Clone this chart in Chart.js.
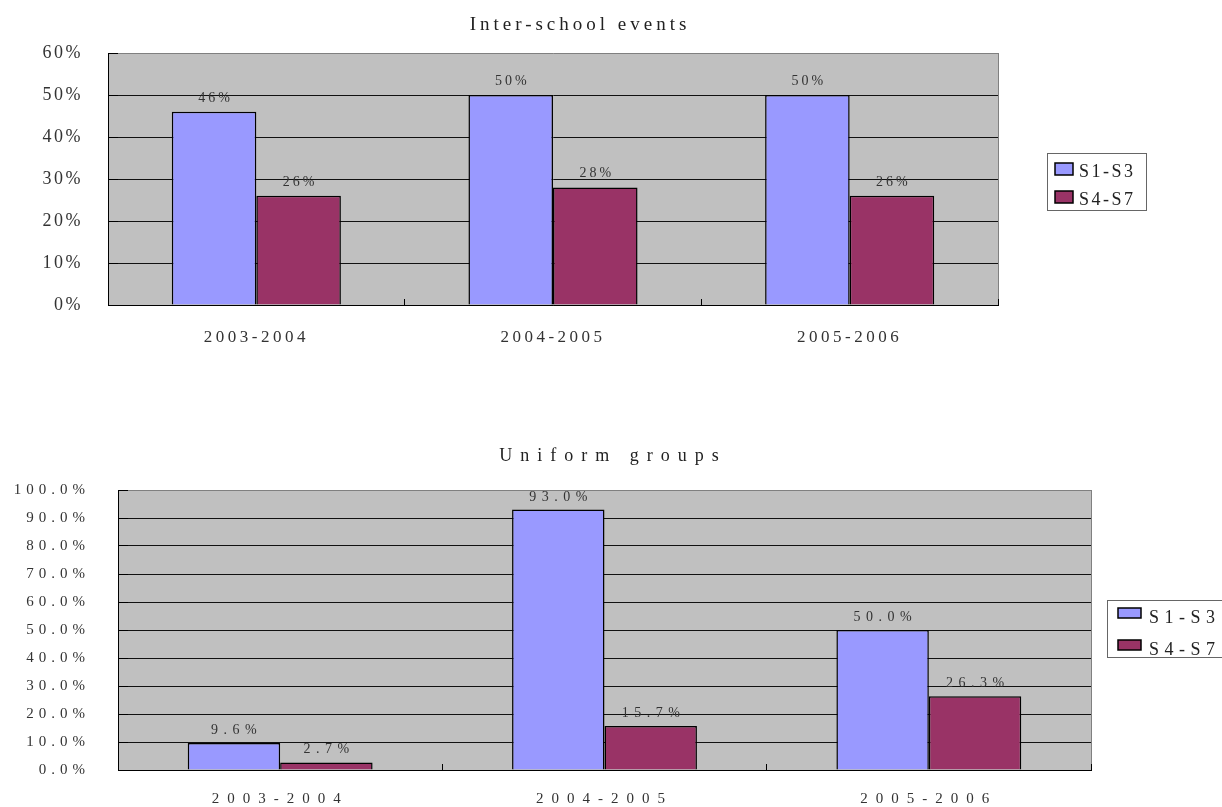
<!DOCTYPE html>
<html lang="en">

<head>
  <meta charset="UTF-8">
  <title>Inter-school events / Uniform groups</title>
  <style>
    body { margin: 0; background: #fff; }
    .chart-box { position: absolute; left: 0; }
  </style>
</head>

<body>
  <div class="chart-box" style="top: 0"><canvas id="events-canvas" width="1222" height="370"></canvas></div>
  <div class="chart-box" style="top: 430px"><canvas id="uniform-canvas" width="1222" height="377"></canvas></div>

  <script src="https://cdn.jsdelivr.net/npm/chart.js@4.4.8/dist/chart.umd.min.js"></script>
  <script>
    // shared categories and series
    const years = ['2003-2004', '2004-2005', '2005-2006'];
    const seriesNames = ['S1-S3', 'S4-S7'];
    const seriesColors = ['#9999FF', '#993366'];

    // Inter-school events
    const eventsS1S3 = [46, 50, 50];
    const eventsS4S7 = [26, 28, 26];
    const eventsTicks = [0, 10, 20, 30, 40, 50, 60];
    const eventsTickLabels = ['0%', '10%', '20%', '30%', '40%', '50%', '60%'];

    // Uniform groups
    const uniformS1S3 = [9.6, 93.0, 50.0];
    const uniformS4S7 = [2.7, 15.7, 26.3];
    const uniformTicks = [0, 10, 20, 30, 40, 50, 60, 70, 80, 90, 100];
    const uniformTickLabels = ['0.0%', '10.0%', '20.0%', '30.0%', '40.0%', '50.0%', '60.0%', '70.0%', '80.0%', '90.0%', '100.0%'];

    const FONT = "'Liberation Serif', 'Times New Roman', serif";

    // wrap a scale's label drawing so the text gets letter spacing
    function spaceLabels(scale, spacing) {
      if (scale._spaced) return;
      scale._spaced = true;
      const draw = scale.drawLabels;
      scale.drawLabels = function (area) {
        this.ctx.save();
        this.ctx.letterSpacing = spacing + 'px';
        draw.call(this, area);
        this.ctx.restore();
      };
    }

    function spacedText(ctx, text, x, y, size, spacing, align, color) {
      ctx.save();
      ctx.font = size + 'px ' + FONT;
      ctx.letterSpacing = spacing + 'px';
      ctx.textAlign = align;
      ctx.textBaseline = 'alphabetic';
      ctx.fillStyle = color;
      ctx.fillText(text, align === 'center' ? x + spacing / 2 : x, y);
      ctx.restore();
    }

    // same pixel snapping as Chart.js uses for 1px lines
    const snap = (p) => Math.round(p + 0.5) - 0.5;

    // background, title, legend, value labels and the small inner tick marks
    function decor(cfg) {
      return {
        id: 'decor',
        beforeDraw(chart) {
          const { ctx, chartArea: a } = chart;
          spaceLabels(chart.scales.x, cfg.xSpacing);
          spaceLabels(chart.scales.y, cfg.ySpacing);
          ctx.save();
          ctx.fillStyle = '#C0C0C0';
          ctx.fillRect(a.left, a.top, a.right - a.left, a.bottom - a.top);
          ctx.restore();
        },
        afterDatasetsDraw(chart) {
          const ctx = chart.ctx;
          chart.data.datasets.forEach((ds, i) => {
            chart.getDatasetMeta(i).data.forEach((bar, j) => {
              spacedText(ctx, ds.data[j].toFixed(cfg.decimals) + '%', bar.x, bar.y - cfg.valueGap,
                cfg.valueSize, cfg.valueSpacing, 'center', '#333');
            });
          });
        },
        afterDraw(chart) {
          const { ctx, chartArea: a, scales } = chart;
          ctx.save();
          // right border of the plot
          ctx.strokeStyle = '#808080';
          ctx.lineWidth = 1;
          ctx.beginPath();
          ctx.moveTo(snap(a.right), a.top);
          ctx.lineTo(snap(a.right), a.bottom);
          ctx.stroke();
          // inner tick marks
          ctx.strokeStyle = '#000';
          ctx.beginPath();
          scales.y.ticks.forEach((t, i) => {
            const y = snap(scales.y.getPixelForTick(i));
            ctx.moveTo(a.left, y);
            ctx.lineTo(a.left + 10, y);
          });
          for (let i = 1; i <= chart.data.labels.length; i++) {
            const x = snap(scales.x.getPixelForValue(i - 0.5));
            ctx.moveTo(x, a.bottom);
            ctx.lineTo(x, a.bottom - 6);
          }
          ctx.stroke();
          ctx.restore();

          // title
          spacedText(ctx, cfg.title, cfg.titleX, cfg.titleY, cfg.titleSize, cfg.titleSpacing, 'center', '#222');

          // legend
          const L = cfg.legend;
          ctx.save();
          ctx.fillStyle = '#fff';
          ctx.strokeStyle = '#666';
          ctx.lineWidth = 1;
          ctx.fillRect(L.x, L.y, L.w, L.h);
          ctx.strokeRect(L.x + 0.5, L.y + 0.5, L.w, L.h);
          chart.data.datasets.forEach((ds, i) => {
            const sy = L.swatchY + i * L.rowGap;
            ctx.fillStyle = ds.backgroundColor;
            ctx.fillRect(L.swatchX, sy, L.swatchW, L.swatchH);
            ctx.strokeStyle = '#000';
            ctx.lineWidth = 1.5;
            ctx.strokeRect(L.swatchX, sy, L.swatchW, L.swatchH);
            spacedText(ctx, ds.label, L.textX, L.textY + i * L.rowGap, L.size, L.spacing, 'left', '#222');
          });
          ctx.restore();
        }
      };
    }

    function makeChart(canvasId, s1, s2, ticks, tickLabels, cfg) {
      const yMax = ticks[ticks.length - 1];
      return new Chart(document.getElementById(canvasId).getContext('2d'), {
        type: 'bar',
        data: {
          labels: years,
          datasets: [
            { label: seriesNames[0], data: s1, backgroundColor: seriesColors[0] },
            { label: seriesNames[1], data: s2, backgroundColor: seriesColors[1] }
          ]
        },
        options: {
          responsive: false,
          animation: false,
          devicePixelRatio: 1,
          layout: { padding: { left: 0, top: cfg.plotTop, right: 1222 - cfg.plotRight, bottom: 0 } },
          datasets: {
            bar: {
              barPercentage: 1,
              categoryPercentage: 0.57,
              borderColor: '#000',
              borderWidth: 1.5
            }
          },
          plugins: {
            legend: { display: false },
            tooltip: { enabled: false }
          },
          scales: {
            x: {
              grid: { display: false },
              border: { display: true, color: '#000', width: 1 },
              ticks: {
                color: '#333',
                font: { family: FONT, size: cfg.xSize },
                padding: cfg.xPad,
                maxRotation: 0,
                autoSkip: false
              },
              afterFit: (scale) => { scale.height = cfg.canvasHeight - cfg.plotBottom; }
            },
            y: {
              min: ticks[0],
              max: yMax,
              grid: {
                drawTicks: false,
                color: (c) => (c.tick && c.tick.value === yMax ? '#808080' : '#111')
              },
              border: { display: true, color: '#000', width: 1 },
              ticks: {
                stepSize: ticks[1] - ticks[0],
                color: '#333',
                font: { family: FONT, size: cfg.ySize },
                padding: cfg.yPad,
                callback: (v, i) => tickLabels[i]
              },
              afterFit: (scale) => { scale.width = cfg.plotLeft; }
            }
          }
        },
        plugins: [decor(cfg)]
      });
    }

    makeChart('events-canvas', eventsS1S3, eventsS4S7, eventsTicks, eventsTickLabels, {
      canvasHeight: 370, plotLeft: 108, plotRight: 998, plotTop: 53, plotBottom: 305,
      xSize: 17, xSpacing: 3.5, xPad: 14,
      ySize: 18, ySpacing: 2.5, yPad: 25,
      title: 'Inter-school events', titleX: 578, titleY: 30, titleSize: 19, titleSpacing: 4,
      decimals: 0, valueSize: 14, valueSpacing: 3, valueGap: 10,
      legend: {
        x: 1047, y: 153, w: 99, h: 57,
        swatchX: 1055, swatchY: 163, swatchW: 18, swatchH: 12, rowGap: 28,
        textX: 1079, textY: 177, size: 18, spacing: 2.5
      }
    });

    makeChart('uniform-canvas', uniformS1S3, uniformS4S7, uniformTicks, uniformTickLabels, {
      canvasHeight: 377, plotLeft: 118, plotRight: 1091, plotTop: 60, plotBottom: 342,
      xSize: 15, xSpacing: 8, xPad: 12,
      ySize: 15, ySpacing: 5, yPad: 28,
      title: 'Uniform groups', titleX: 609, titleY: 31, titleSize: 18, titleSpacing: 8,
      decimals: 1, valueSize: 14, valueSpacing: 5.5, valueGap: 9,
      legend: {
        x: 1107, y: 170, w: 130, h: 57,
        swatchX: 1118, swatchY: 178, swatchW: 23, swatchH: 10, rowGap: 32,
        textX: 1149, textY: 193, size: 18, spacing: 5.5
      }
    });
  </script>
</body>

</html>
